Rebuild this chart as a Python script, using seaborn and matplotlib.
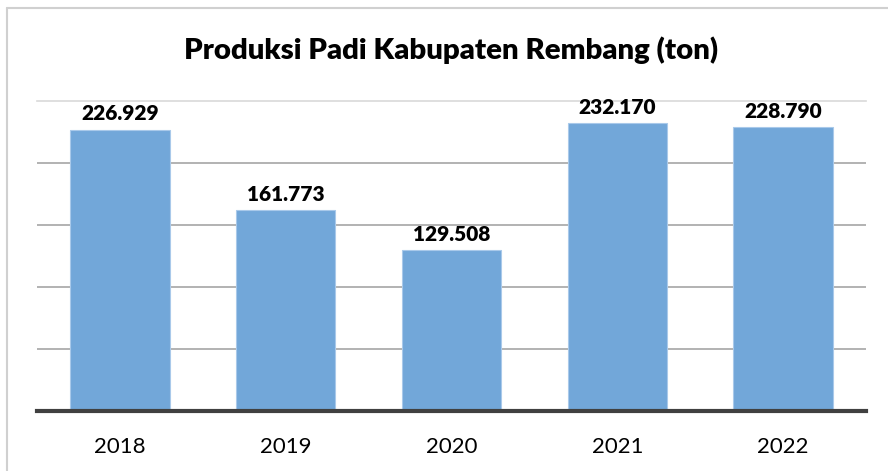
import matplotlib
matplotlib.use("Agg")
import matplotlib.pyplot as plt
from matplotlib.lines import Line2D
import seaborn as sns
import pandas as pd

# data
years = ["2018", "2019", "2020", "2021", "2022"]
produksi = [226929, 161773, 129508, 232170, 228790]

df = pd.DataFrame({"Tahun": years, "Produksi": produksi})

sns.set_style("white")
plt.rcParams["font.family"] = ["Lato", "DejaVu Sans"]

fig = plt.figure(figsize=(8.88, 4.71), dpi=100)
ax = fig.add_axes([37 / 888, 60 / 471, 829 / 888, 310 / 471])

sns.barplot(data=df, x="Tahun", y="Produksi", color="#72a7d9", saturation=1,
            width=0.6, edgecolor="#a9c9ea", linewidth=0.8, ax=ax, zorder=3)

ax.set_ylim(0, 250000)
ax.set_xlim(-0.5, 4.5)
ax.set_yticks([50000, 100000, 150000, 200000])
ax.yaxis.grid(True, color="#a6a6a6", linewidth=1.2, zorder=0)
ax.set_axisbelow(True)
ax.tick_params(axis="y", left=False, labelleft=False)
ax.tick_params(axis="x", bottom=False, labelsize=16, pad=15, colors="#000000")
ax.set_xlabel("")
ax.set_ylabel("")

for side in ["left", "right"]:
    ax.spines[side].set_visible(False)
ax.spines["top"].set_color("#d9d9d9")
ax.spines["top"].set_linewidth(1.2)
ax.spines["bottom"].set_color("#404040")
ax.spines["bottom"].set_linewidth(3)
ax.spines["bottom"].set_zorder(5)

for i, v in enumerate(produksi):
    label = f"{v:,}".replace(",", ".")
    ax.text(i, v + 5000, label, ha="center", va="bottom", fontsize=15,
            fontweight="heavy", color="#000000", clip_on=False)

fig.text(451 / 888, 1 - 50 / 471, "Produksi Padi Kabupaten Rembang (ton)",
         ha="center", va="center", fontsize=21.2, fontweight="heavy",
         color="#000000")

# chart frame (clipped on right and bottom like the screenshot)
fig.add_artist(Line2D([7 / 888, 7 / 888], [0, 1 - 8 / 471],
                      transform=fig.transFigure, color="#d0d0d0", linewidth=1.5))
fig.add_artist(Line2D([7 / 888, 1], [1 - 8 / 471, 1 - 8 / 471],
                      transform=fig.transFigure, color="#d0d0d0", linewidth=1.5))

fig.savefig("out.png", dpi=100)
